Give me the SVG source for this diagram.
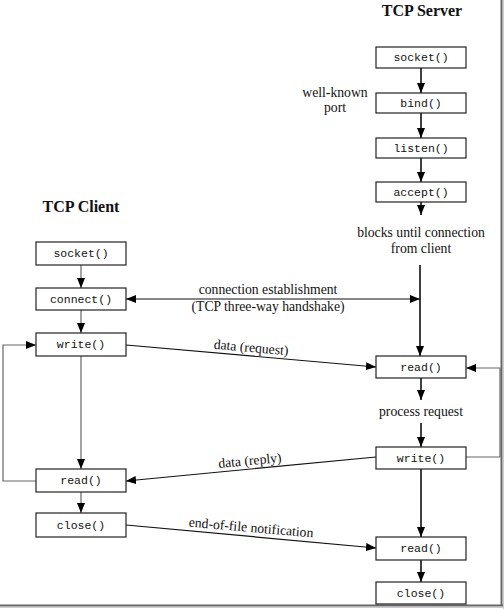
<svg xmlns="http://www.w3.org/2000/svg" width="504" height="609" viewBox="0 0 504 609">
<defs>
<marker id="ah" markerWidth="10" markerHeight="8" refX="10" refY="4" orient="auto" markerUnits="userSpaceOnUse">
<path d="M0,0 L10,4 L0,8 z" fill="#000"/>
</marker>
<marker id="ahs" markerWidth="10" markerHeight="8" refX="0" refY="4" orient="auto" markerUnits="userSpaceOnUse">
<path d="M10,0 L0,4 L10,8 z" fill="#000"/>
</marker>
<style>
.box{fill:#fff;stroke:#222;stroke-width:1.2}
.fn{font-family:"Liberation Mono","DejaVu Sans Mono",monospace;font-size:11.5px;text-anchor:middle;fill:#111}
.lbl{font-family:"Liberation Serif","Times New Roman",serif;font-size:13.7px;text-anchor:middle;fill:#111}
.ttl{font-family:"Liberation Serif","Times New Roman",serif;font-size:16px;font-weight:bold;text-anchor:middle;fill:#111}
.srv{stroke:#000;stroke-width:1.5;fill:none}
.cli{stroke:#666;stroke-width:1.2;fill:none}
.dat{stroke:#111;stroke-width:1.2;fill:none}
</style>
</defs>
<rect width="504" height="609" fill="#fff"/>
<g id="frame">
<line x1="501.5" y1="0" x2="501.5" y2="606" stroke="#666" stroke-width="2"/>
<line x1="503.5" y1="0" x2="503.5" y2="609" stroke="#ccc" stroke-width="1"/>
<line x1="0" y1="605.5" x2="503" y2="605.5" stroke="#666" stroke-width="2"/>
<line x1="0" y1="607.5" x2="504" y2="607.5" stroke="#ccc" stroke-width="1"/>
</g>
<g id="titles">
<text class="ttl" x="422" y="16">TCP Server</text>
<text class="ttl" x="81" y="212">TCP Client</text>
</g>
<g id="connectors">
<line class="srv" x1="421" y1="68" x2="421" y2="93" marker-end="url(#ah)"/>
<line class="srv" x1="421" y1="113" x2="421" y2="138" marker-end="url(#ah)"/>
<line class="srv" x1="421" y1="158" x2="421" y2="182" marker-end="url(#ah)"/>
<line class="srv" x1="421" y1="202" x2="421" y2="215" marker-end="url(#ah)"/>
<line class="srv" x1="420" y1="265" x2="420" y2="356" marker-end="url(#ah)"/>
<line class="srv" x1="421" y1="378" x2="421" y2="400" marker-end="url(#ah)"/>
<line class="srv" x1="421" y1="423" x2="421" y2="447" marker-end="url(#ah)"/>
<line class="srv" x1="421" y1="469" x2="421" y2="537" marker-end="url(#ah)"/>
<line class="srv" x1="421" y1="560" x2="421" y2="582" marker-end="url(#ah)"/>
<path class="cli" d="M466,457 H500 V368 H466" marker-end="url(#ah)"/>
<line class="cli" x1="81" y1="265" x2="81" y2="288" marker-end="url(#ah)"/>
<line class="cli" x1="81" y1="310" x2="81" y2="333" marker-end="url(#ah)"/>
<line class="cli" x1="81" y1="356" x2="81" y2="469" marker-end="url(#ah)"/>
<line class="cli" x1="81" y1="492" x2="81" y2="513" marker-end="url(#ah)"/>
<path class="cli" d="M36,481 H3 V345 H36" marker-end="url(#ah)"/>
<line class="dat" x1="126" y1="299" x2="420" y2="299" marker-start="url(#ahs)" marker-end="url(#ah)"/>
<line class="dat" x1="126" y1="345" x2="376" y2="367" marker-end="url(#ah)"/>
<line class="dat" x1="376" y1="457" x2="126" y2="481" marker-end="url(#ah)"/>
<line class="dat" x1="126" y1="525" x2="376" y2="548" marker-end="url(#ah)"/>
</g>
<g id="labels">
<text class="lbl" x="335" y="97">well-known</text>
<text class="lbl" x="335" y="112">port</text>
<text class="lbl" x="421" y="237">blocks until connection</text>
<text class="lbl" x="421" y="253">from client</text>
<text class="lbl" x="268" y="294">connection establishment</text>
<text class="lbl" x="268" y="311">(TCP three-way handshake)</text>
<text class="lbl" x="251" y="352" transform="rotate(5 251 349)">data (request)</text>
<text class="lbl" x="421" y="416">process request</text>
<text class="lbl" x="250" y="465" transform="rotate(-5.5 250 462)">data (reply)</text>
<text class="lbl" x="251" y="532" transform="rotate(5 251 529)">end-of-file notification</text>
</g>
<g id="s_socket"><rect class="box" x="376" y="47" width="90" height="21"/><text class="fn" x="421" y="61">socket()</text></g>
<g id="s_bind"><rect class="box" x="376" y="93" width="90" height="20"/><text class="fn" x="421" y="107">bind()</text></g>
<g id="s_listen"><rect class="box" x="376" y="138" width="90" height="20"/><text class="fn" x="421" y="152">listen()</text></g>
<g id="s_accept"><rect class="box" x="376" y="182" width="90" height="20"/><text class="fn" x="421" y="196">accept()</text></g>
<g id="s_read1"><rect class="box" x="376" y="356" width="90" height="22"/><text class="fn" x="421" y="371">read()</text></g>
<g id="s_write"><rect class="box" x="376" y="447" width="90" height="22"/><text class="fn" x="421" y="462">write()</text></g>
<g id="s_read2"><rect class="box" x="376" y="537" width="90" height="23"/><text class="fn" x="421" y="552">read()</text></g>
<g id="s_close"><rect class="box" x="376" y="582" width="90" height="22"/><text class="fn" x="421" y="597">close()</text></g>
<g id="c_socket"><rect class="box" x="36" y="242" width="90" height="23"/><text class="fn" x="81" y="257">socket()</text></g>
<g id="c_connect"><rect class="box" x="36" y="288" width="90" height="22"/><text class="fn" x="81" y="303">connect()</text></g>
<g id="c_write"><rect class="box" x="36" y="333" width="90" height="23"/><text class="fn" x="81" y="348">write()</text></g>
<g id="c_read"><rect class="box" x="36" y="469" width="90" height="23"/><text class="fn" x="81" y="484">read()</text></g>
<g id="c_close"><rect class="box" x="36" y="513" width="90" height="24"/><text class="fn" x="81" y="529">close()</text></g>
</svg>
